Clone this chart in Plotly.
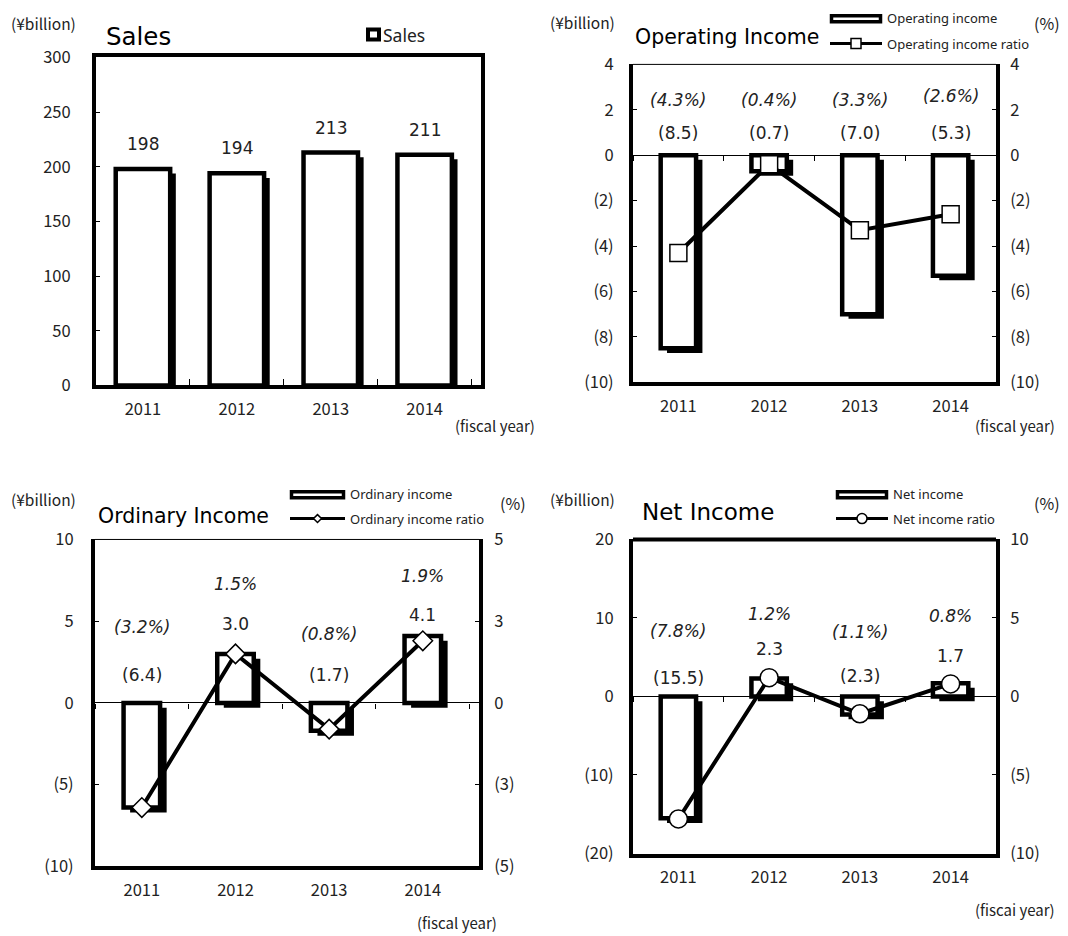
import plotly.graph_objects as go

# ---------------- data ----------------
years = ["2011", "2012", "2013", "2014"]
sales = [198, 194, 213, 211]
op_income = [-8.5, -0.7, -7.0, -5.3]
op_ratio = [-4.3, -0.4, -3.3, -2.6]
ord_income = [-6.4, 3.0, -1.7, 4.1]
ord_ratio = [-3.2, 1.5, -0.8, 1.9]
net_income = [-15.5, 2.3, -2.3, 1.7]
net_ratio = [-7.8, 1.2, -1.1, 0.8]

sales_ticks = [0, 50, 100, 150, 200, 250, 300]
op_ticks = [4, 2, 0, -2, -4, -6, -8, -10]
ord_ticks = [10, 5, 0, -5, -10]
ord_rticks = [5, 2.5, 0, -2.5, -5]
ord_rtext = ["5", "3", "0", "(3)", "(5)"]
net_ticks = [20, 10, 0, -10, -20]
net_rticks = [10, 5, 0, -5, -10]


def fmt_num(v, dec=0):
    s = f"{abs(v):.{dec}f}"
    return f"({s})" if v < 0 else s


def fmt_pct(v):
    s = f"{abs(v):.1f}%"
    return f"({s})" if v < 0 else s


# ---------------- layout helpers ----------------
W, H = 1068, 936


def fx(px):
    return (px - 7) / W


def fy(py):
    return 1 - (1.02 * py - 18.7) / H


TICKFONT = dict(family="Noto Sans CJK JP", size=16.5, color="#222")
LBLFONT = dict(family="DejaVu Sans", size=17, color="#222")
PCTFONT = dict(family="DejaVu Sans", size=17, color="#222", style="italic")

# panel frames (pixels) and category-axis ranges
P = {
    1: dict(x0=95, x1=480, y0=55, y1=385, xr=[-0.5, 3.6]),
    2: dict(x0=632, x1=995, y0=62, y1=382, xr=[-0.5, 3.5]),
    3: dict(x0=94, x1=478, y0=540, y1=869, xr=[-0.5, 3.6]),
    4: dict(x0=632, x1=995, y0=540, y1=856, xr=[-0.5, 3.5]),
}

fig = go.Figure()


def add_bars(xa, ya, vals, width, dx, dy):
    # drop shadow (black, shifted right/down)
    fig.add_trace(go.Bar(
        x=years, y=vals, base=[-dy] * len(vals), width=width,
        offset=-width / 2 + dx, xaxis=xa, yaxis=ya,
        marker=dict(color="black", line=dict(width=0)), showlegend=False,
        hoverinfo="skip"))
    fig.add_trace(go.Bar(
        x=years, y=vals, width=width, offset=-width / 2, xaxis=xa, yaxis=ya,
        marker=dict(color="white", line=dict(color="black", width=4.5)),
        showlegend=False))


add_bars("x", "y", sales, 0.58, 0.06, 4.2)
add_bars("x2", "y2", op_income, 0.39, 0.07, 0.2)
add_bars("x3", "y3", ord_income, 0.39, 0.07, 0.3)
add_bars("x4", "y4", net_income, 0.39, 0.07, 0.6)

# empty traces so that the zero-line tick axes get drawn
for xa, ya in (("x5", "y2"), ("x6", "y3"), ("x7", "y4")):
    fig.add_trace(go.Scatter(x=[None], y=[None], xaxis=xa, yaxis=ya,
                             mode="markers", showlegend=False,
                             hoverinfo="skip"))

fig.add_trace(go.Scatter(x=years, y=op_ratio, xaxis="x2", yaxis="y5",
                         mode="lines+markers", showlegend=False,
                         line=dict(color="black", width=4),
                         marker=dict(symbol="square", size=17, color="white",
                                     line=dict(color="black", width=1.5))))
fig.add_trace(go.Scatter(x=years, y=ord_ratio, xaxis="x3", yaxis="y6",
                         mode="lines+markers", showlegend=False,
                         line=dict(color="black", width=4),
                         marker=dict(symbol="diamond", size=15, color="white",
                                     line=dict(color="black", width=1.5))))
fig.add_trace(go.Scatter(x=years, y=net_ratio, xaxis="x4", yaxis="y7",
                         mode="lines+markers", showlegend=False,
                         line=dict(color="black", width=4),
                         marker=dict(symbol="circle", size=18, color="white",
                                     line=dict(color="black", width=1.5))))


def xaxis_cfg(p, anchor, standoff=6):
    return dict(domain=[fx(P[p]["x0"]), fx(P[p]["x1"])], anchor=anchor,
                type="category", range=P[p]["xr"], showline=True,
                linecolor="black", linewidth=4, ticks="", showgrid=False,
                tickfont=TICKFONT, ticklabelstandoff=standoff, fixedrange=True)


def yaxis_cfg(p, anchor, rng, tickvals, ticktext, side="left", overlay=None,
              zero=False, standoff=12):
    d = dict(anchor=anchor, range=rng, tickvals=tickvals, ticktext=ticktext,
             showline=True, linecolor="black", linewidth=4, ticks="inside",
             ticklen=4, tickcolor="black", showgrid=False, side=side,
             zeroline=zero, zerolinecolor="black", zerolinewidth=1,
             tickfont=TICKFONT, ticklabelstandoff=standoff, fixedrange=True)
    if overlay:
        d["overlaying"] = overlay
    else:
        d["domain"] = [fy(P[p]["y1"]), fy(P[p]["y0"])]
    return d


def zero_axis(p, over, rng):
    # thin axis sitting on the zero line, with small ticks at category bounds
    zpx = P[p]["y0"] + rng[1] / (rng[1] - rng[0]) * (P[p]["y1"] - P[p]["y0"])
    lo, hi = P[p]["xr"]
    bounds = [b + 0.5 for b in range(-1, 4)]
    return dict(overlaying=over, anchor="free", position=fy(zpx),
                range=[lo, hi], tickvals=bounds, ticks="outside", ticklen=5,
                tickcolor="black", tickwidth=1, showticklabels=False,
                showline=False, showgrid=False, zeroline=False,
                fixedrange=True)


fig.update_layout(
    width=W, height=H, margin=dict(l=0, r=0, t=0, b=0),
    paper_bgcolor="white", plot_bgcolor="white", barmode="overlay",
    showlegend=False,
    xaxis=dict(xaxis_cfg(1, "y"), mirror=True, ticks="inside",
               tickson="boundaries", ticklen=6, tickcolor="black"),
    yaxis=dict(yaxis_cfg(1, "x", [0, 300], sales_ticks,
                         [str(v) for v in sales_ticks], standoff=18),
               mirror=True),
    xaxis2=xaxis_cfg(2, "y2"),
    yaxis2=yaxis_cfg(2, "x2", [-10, 4], op_ticks,
                     [fmt_num(v) for v in op_ticks], zero=True),
    yaxis5=yaxis_cfg(2, "x2", [-10, 4], op_ticks,
                     [fmt_num(v) for v in op_ticks], side="right",
                     overlay="y2", standoff=7),
    xaxis3=xaxis_cfg(3, "y3"),
    yaxis3=yaxis_cfg(3, "x3", [-10, 10], ord_ticks,
                     [fmt_num(v) for v in ord_ticks], zero=True, standoff=14),
    yaxis6=yaxis_cfg(3, "x3", [-5, 5], ord_rticks, ord_rtext, side="right",
                     overlay="y3", standoff=8),
    xaxis4=xaxis_cfg(4, "y4"),
    yaxis4=yaxis_cfg(4, "x4", [-20, 20], net_ticks,
                     [fmt_num(v) for v in net_ticks], zero=True),
    yaxis7=yaxis_cfg(4, "x4", [-10, 10], net_rticks,
                     [fmt_num(v) for v in net_rticks], side="right",
                     overlay="y4", standoff=7),
    xaxis5=zero_axis(2, "x2", [-10, 4]),
    xaxis6=zero_axis(3, "x3", [-10, 10]),
    xaxis7=zero_axis(4, "x4", [-20, 20]),
)

shapes = []
# top borders: thin for panels 2 & 3, thick for panel 4
for p, w in ((2, 1), (3, 1), (4, 4)):
    shapes.append(dict(type="line", xref="paper", yref="paper",
                       x0=fx(P[p]["x0"]), x1=fx(P[p]["x1"]),
                       y0=fy(P[p]["y0"]), y1=fy(P[p]["y0"]),
                       line=dict(color="black", width=w)))

annotations = []


def text(x, y, s, size=14, family="Noto Sans CJK JP", xanchor="left",
         color="#222", style="normal"):
    annotations.append(dict(x=fx(x), y=fy(y), xref="paper", yref="paper",
                            text=s, showarrow=False, xanchor=xanchor,
                            yanchor="middle",
                            font=dict(size=size, family=family, color=color,
                                      style=style)))


# unit labels
for x, y in ((8, 20), (547, 19), (8, 499), (547, 499)):
    text(x, y, "(¥billion)", size=15.5)
for x, y in ((1031, 20), (497, 503), (1031, 503)):
    text(x, y, "(%)", size=16)
# titles
text(103, 34, "Sales", size=24.5, family="DejaVu Sans", color="black")
text(632, 34, "Operating Income", size=20.5, family="DejaVu Sans",
     color="black")
text(95, 516, "Ordinary Income", size=20.5, family="DejaVu Sans",
     color="black")
text(639, 512, "Net Income", size=23, family="DejaVu Sans", color="black")
# fiscal year
for x, y, s in ((452, 425, "(fiscal year)"), (972, 425, "(fiscal year)"),
                (414, 925, "(fiscal year)"), (972, 912, "(fiscai year)")):
    text(x, y, s, size=15)

# legends
shapes.append(dict(type="rect", xref="paper", yref="paper",
                   x0=fx(367), x1=fx(378), y0=fy(37), y1=fy(27),
                   line=dict(color="black", width=4), fillcolor="white"))
text(380, 32, "Sales", size=17.5, family="Noto Sans")

leg = [
    (829, 881, 16, 41, "Operating income", "Operating income ratio",
     "square"),
    (289, 344, 495, 519, "Ordinary income", "Ordinary income ratio",
     "diamond"),
    (835, 887, 495, 519, "Net income", "Net income ratio", "circle"),
]
for x0, x1, yr, yl, t1, t2, sym in leg:
    shapes.append(dict(type="rect", xref="paper", yref="paper",
                       x0=fx(x0 + 1.5), x1=fx(x1 - 1.5), y0=fy(yr + 3),
                       y1=fy(yr - 3), line=dict(color="black", width=3.5),
                       fillcolor="white"))
    shapes.append(dict(type="line", xref="paper", yref="paper",
                       x0=fx(x0), x1=fx(x1), y0=fy(yl), y1=fy(yl),
                       line=dict(color="black", width=3)))
    cx = (x0 + x1) / 2
    if sym == "square":
        shapes.append(dict(type="rect", xref="paper", yref="paper",
                           x0=fx(cx - 5), x1=fx(cx + 5), y0=fy(yl + 5),
                           y1=fy(yl - 5), fillcolor="white",
                           line=dict(color="black", width=1.5)))
    elif sym == "circle":
        shapes.append(dict(type="circle", xref="paper", yref="paper",
                           x0=fx(cx - 5), x1=fx(cx + 5), y0=fy(yl + 5),
                           y1=fy(yl - 5), fillcolor="white",
                           line=dict(color="black", width=1.5)))
    else:
        path = (f"M {fx(cx - 4)} {fy(yl)} L {fx(cx)} {fy(yl - 4)} "
                f"L {fx(cx + 4)} {fy(yl)} L {fx(cx)} {fy(yl + 4)} Z")
        shapes.append(dict(type="path", xref="paper", yref="paper", path=path,
                           fillcolor="white",
                           line=dict(color="black", width=1.5)))
    text(x1 + 3, yr - 1, t1, size=13, family="Noto Sans")
    text(x1 + 3, yl, t2, size=13, family="Noto Sans")

# data labels (x given as category index)
for i, v in enumerate(sales):
    annotations.append(dict(x=i, y=v, xref="x", yref="y", text=str(v),
                            showarrow=False, yanchor="bottom", yshift=13,
                            font=LBLFONT))

label_rows = [
    ("x2", op_income, op_ratio, [131] * 4, [98, 98, 98, 94]),
    ("x3", ord_income, ord_ratio, [676, 625, 676, 616], [628, 585, 635, 577]),
    ("x4", net_income, net_ratio, [679, 650, 677, 657], [632, 615, 633, 617]),
]
for xa, vals, rats, vy, py in label_rows:
    for i, (v, r, a, b) in enumerate(zip(vals, rats, vy, py)):
        annotations.append(dict(x=i, y=fy(a), xref=xa, yref="paper",
                                text=fmt_num(v, 1), showarrow=False,
                                yanchor="middle", font=LBLFONT))
        annotations.append(dict(x=i, y=fy(b), xref=xa, yref="paper",
                                text=fmt_pct(r), showarrow=False,
                                yanchor="middle", font=PCTFONT))

fig.update_layout(shapes=shapes, annotations=annotations)
fig.write_html("out.html")
